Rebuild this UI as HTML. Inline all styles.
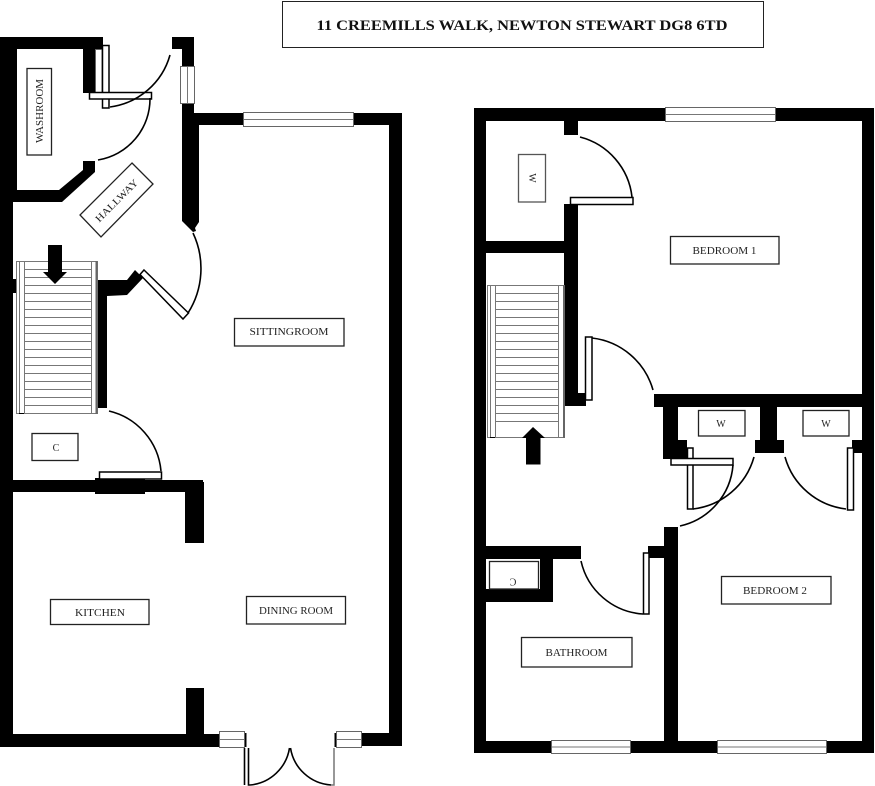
<!DOCTYPE html>
<html>
<head>
<meta charset="utf-8">
<style>
html,body{margin:0;padding:0;background:#fff;width:875px;height:786px;overflow:hidden}
svg{display:block}
text{font-family:"Liberation Serif",serif;font-size:10px;fill:#222;text-anchor:middle}
.b{fill:#fff;stroke:#222;stroke-width:1.3}
.a{fill:none;stroke:#000;stroke-width:1.6}
.d{fill:#fff;stroke:#000;stroke-width:1.5}
.w{fill:#fff;stroke:#666;stroke-width:1}
.s{fill:none;stroke:#777;stroke-width:1}
</style>
</head>
<body>
<svg width="875" height="786" viewBox="0 0 875 786" xmlns="http://www.w3.org/2000/svg">
<!-- title -->
<rect x="282.5" y="1.5" width="481" height="46" fill="#fff" stroke="#222" stroke-width="1"/>
<text x="522" y="30" textLength="411" lengthAdjust="spacingAndGlyphs" style="font-size:14.5px;font-weight:bold;fill:#111">11 CREEMILLS WALK, NEWTON STEWART DG8 6TD</text>

<!-- LEFT PLAN: walls -->
<g fill="#000">
<rect x="0" y="37" width="103" height="12"/>
<rect x="0" y="37" width="17" height="160"/>
<rect x="0" y="190" width="13" height="557"/>
<rect x="83" y="37" width="12" height="56"/>
<polygon points="0,190 59,190 83,170 83,161 95,161 95,172 62,202 0,202"/>
<rect x="172" y="37" width="22" height="12"/>
<rect x="182" y="37" width="12" height="30"/>
<polygon points="182,103 194,103 194,113 199,113 199,222 195,228 196,231 193,232 182,221"/>
<rect x="193" y="113" width="50" height="12"/>
<rect x="354" y="113" width="48" height="12"/>
<rect x="389" y="113" width="13" height="633"/>
<rect x="362" y="733" width="40" height="13"/>
<rect x="0" y="734" width="219" height="13"/>
<rect x="186" y="688" width="18" height="50"/>
<rect x="13" y="279" width="4" height="14"/>
<polygon points="98,280 127,280 135,270 143,278 127,295 107,296 107,408 98,408"/>
<rect x="13" y="480" width="190" height="12"/>
<rect x="95" y="478" width="50" height="16"/>
<rect x="185" y="482" width="19" height="61"/>
<rect x="244" y="733" width="2.5" height="14"/>
<rect x="334.5" y="733" width="2.5" height="14"/>
</g>

<!-- left plan doors and windows -->
<rect x="95.5" y="49.5" width="6.500" height="44" class="w"/>
<rect x="102.500" y="45.500" width="6.500" height="62.500" class="d"/>
<rect x="89.500" y="92.500" width="62" height="6.500" class="d"/>
<path class="a" d="M110 107A72 72 0 0 0 170 55"/>
<path class="a" d="M150 98A62 62 0 0 1 98 160"/>
<rect x="180.500" y="66.500" width="14" height="37" class="w"/>
<path class="s" d="M187.500 67V103"/>
<rect x="243.500" y="112.500" width="110" height="14" class="w"/>
<path class="s" d="M244 119.500H353"/>
<polygon class="d" points="144,270 188.500,313 183,319 140,274.500"/>
<path class="a" d="M188 313A83 83 0 0 0 193 233"/>
<rect x="99.500" y="472" width="62" height="7" class="d"/>
<path class="a" d="M109 411A68 68 0 0 1 161 471"/>
<rect x="219.500" y="731.500" width="25" height="16" class="w"/>
<path class="s" d="M220 739.500H244"/>
<rect x="336.500" y="731.500" width="25" height="16" class="w"/>
<path class="s" d="M337 739.500H361"/>
<path class="a" d="M244.500 748V785M248.500 748V785H250"/>
<path class="s" style="stroke-width:1.5" d="M331 785H334V748"/>
<path class="a" d="M250 785A44 44 0 0 0 289.500 748"/>
<path class="a" d="M331 785A44 44 0 0 1 290.500 748"/>

<!-- left stairs -->
<rect x="16.500" y="261.500" width="81" height="152" class="s"/>
<path class="s" d="M19.500 261V414M24.500 261V414M91.500 261V414"/>
<path d="M96.500 261V414" stroke="#666" stroke-width="2"/>
<path class="s" d="M24 261.500h67m-67 8h67m-67 8h67m-67 8h67m-67 8h67m-67 8h67m-67 8h67m-67 8h67m-67 8h67m-67 8h67m-67 8h67m-67 8h67m-67 8h67m-67 8h67m-67 8h67m-67 8h67m-67 8h67m-67 8h67m-67 8h67"/>
<path d="M19 413.500H24" stroke="#000"/>
<polygon fill="#000" points="48,245 62,245 62,272 67,272 55,284 43,272 48,272"/>

<!-- left labels -->
<rect x="27" y="68.500" width="24.500" height="86.500" class="b"/>
<text transform="translate(43,111) rotate(-90)" textLength="64" lengthAdjust="spacingAndGlyphs">WASHROOM</text>
<polygon class="b" points="132,163 153,184 101,237 80,215"/>
<text transform="translate(119,203) rotate(-45)" textLength="56" lengthAdjust="spacingAndGlyphs">HALLWAY</text>
<rect x="32" y="433.500" width="46" height="27" class="b"/>
<text x="56" y="451">C</text>
<rect x="234.500" y="318.500" width="109.500" height="27.500" class="b"/>
<text x="289" y="335" textLength="79" lengthAdjust="spacingAndGlyphs">SITTINGROOM</text>
<rect x="246.500" y="596.500" width="99" height="27.500" class="b"/>
<text x="296" y="614" textLength="74" lengthAdjust="spacingAndGlyphs">DINING ROOM</text>
<rect x="50.500" y="599.500" width="98.500" height="25" class="b"/>
<text x="100" y="616" textLength="50" lengthAdjust="spacingAndGlyphs">KITCHEN</text>

<!-- RIGHT PLAN: walls -->
<g fill="#000">
<rect x="474" y="108" width="12" height="645"/>
<rect x="474" y="108" width="191" height="13"/>
<rect x="776" y="108" width="98" height="13"/>
<rect x="862" y="108" width="12" height="645"/>
<rect x="564" y="108" width="14" height="27"/>
<rect x="564" y="204" width="14" height="202"/>
<rect x="570" y="203" width="8" height="2"/>
<rect x="474" y="241" width="96" height="12"/>
<rect x="565" y="393" width="21" height="13"/>
<rect x="654" y="394" width="220" height="13"/>
<rect x="663" y="394" width="15" height="65"/>
<rect x="663" y="440" width="24" height="18"/>
<rect x="760" y="407" width="17" height="35"/>
<rect x="755" y="440" width="29" height="13"/>
<rect x="852" y="440" width="10" height="13"/>
<rect x="664" y="527" width="14" height="226"/>
<rect x="648" y="546" width="16" height="12"/>
<rect x="486" y="546" width="95" height="13"/>
<rect x="486" y="589" width="67" height="13"/>
<rect x="540" y="559" width="13" height="43"/>
<rect x="474" y="741" width="77" height="12"/>
<rect x="631" y="741" width="86" height="12"/>
<rect x="827" y="741" width="47" height="12"/>
</g>

<!-- right plan windows and doors -->
<rect x="665.500" y="107.500" width="110" height="14" class="w"/>
<path class="s" d="M666 114.500H775"/>
<rect x="551.500" y="740.500" width="79" height="13" class="w"/>
<path class="s" d="M552 747H630"/>
<rect x="717.500" y="740.500" width="109" height="13" class="w"/>
<path class="s" d="M718 747H826"/>
<rect x="570.500" y="197.500" width="62.500" height="7" class="d"/>
<path class="a" d="M580 137A70 70 0 0 1 632 197"/>
<rect x="585.500" y="337" width="6.500" height="63" class="d"/>
<path class="a" d="M592 338A72 72 0 0 1 653 390"/>
<rect x="687.500" y="448" width="5.500" height="61" class="d"/>
<rect x="671" y="458.500" width="62" height="6.500" class="d"/>
<path class="a" d="M733 465A68 68 0 0 1 680 526"/>
<path class="a" d="M693 509A72 72 0 0 0 754 457"/>
<path class="a" d="M785 457A72 72 0 0 0 846 509"/>
<rect x="847.500" y="448" width="6" height="62" class="d"/>
<rect x="643.500" y="553" width="5.500" height="61" class="d"/>
<path class="a" d="M581 561A68 68 0 0 0 643 614"/>

<!-- right stairs -->
<rect x="487.500" y="285.500" width="77" height="152" class="s"/>
<path class="s" d="M490.500 285V438M495.500 285V438M558.500 285V438"/>
<path d="M564 285V438" stroke="#666" stroke-width="2"/>
<path class="s" d="M495 285.500h63m-63 8h63m-63 8h63m-63 8h63m-63 8h63m-63 8h63m-63 8h63m-63 8h63m-63 8h63m-63 8h63m-63 8h63m-63 8h63m-63 8h63m-63 8h63m-63 8h63m-63 8h63m-63 8h63m-63 8h63"/>
<path d="M490 437.500H495" stroke="#000"/>
<polygon fill="#000" points="526,464.500 540.500,464.500 540.500,438 545,438 533,427 522,438 526,438"/>

<!-- right labels -->
<rect x="518.500" y="154.500" width="27" height="47.500" class="b" style="stroke:#555"/>
<text transform="translate(529,178) rotate(90)">W</text>
<rect x="670.500" y="236.500" width="108.500" height="27.500" class="b"/>
<text x="724.500" y="254" textLength="64" lengthAdjust="spacingAndGlyphs">BEDROOM 1</text>
<rect x="698.500" y="410.500" width="46.500" height="25.500" class="b"/>
<text x="721" y="427">W</text>
<rect x="803" y="410.500" width="46" height="25.500" class="b"/>
<text x="826" y="427">W</text>
<rect x="721.500" y="576.500" width="109.500" height="27.500" class="b"/>
<text x="775" y="594" textLength="64" lengthAdjust="spacingAndGlyphs">BEDROOM 2</text>
<rect x="521.500" y="637.500" width="110.500" height="29.500" class="b"/>
<text x="576.500" y="656" textLength="62" lengthAdjust="spacingAndGlyphs">BATHROOM</text>
<rect x="489.500" y="561.500" width="49" height="27.500" class="b"/>
<text transform="translate(513,575) rotate(180)" y="-3.500" dy="0">C</text>
</svg>
</body>
</html>
